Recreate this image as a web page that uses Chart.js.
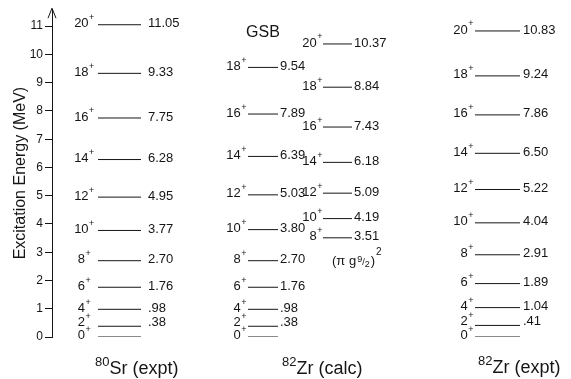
<!DOCTYPE html>
<html>
<head>
<meta charset="utf-8">
<script src="https://cdn.jsdelivr.net/npm/chart.js@4/dist/chart.umd.min.js"></script>
<style>
  html, body { margin: 0; padding: 0; background: #fff; }
  #wrap { width: 571px; height: 379px; }
</style>
</head>
<body>
<div id="wrap"><canvas id="c" width="571" height="379"></canvas></div>
<script>
// ---- data (MeV) ----
const sr80ExptSpins = [0, 2, 4, 6, 8, 10, 12, 14, 16, 18, 20];
const sr80ExptEnergies = [0, 0.38, 0.98, 1.76, 2.70, 3.77, 4.95, 6.28, 7.75, 9.33, 11.05];

const zr82CalcGsbSpins = [0, 2, 4, 6, 8, 10, 12, 14, 16, 18];
const zr82CalcGsbEnergies = [0, 0.38, 0.98, 1.76, 2.70, 3.80, 5.03, 6.39, 7.89, 9.54];

const zr82CalcG92Spins = [8, 10, 12, 14, 16, 18, 20];
const zr82CalcG92Energies = [3.51, 4.19, 5.09, 6.18, 7.43, 8.84, 10.37];

const zr82ExptSpins = [0, 2, 4, 6, 8, 10, 12, 14, 16, 18, 20];
const zr82ExptEnergies = [0, 0.41, 1.04, 1.89, 2.91, 4.04, 5.22, 6.50, 7.86, 9.24, 10.83];

const yTickValues = [0, 1, 2, 3, 4, 5, 6, 7, 8, 9, 10, 11];
const yAxisTitle = 'Excitation Energy (MeV)';

// ---- layout (pixel-unit x positions, styles) ----
const FONT = '"Liberation Sans", Arial, Helvetica, sans-serif';
const INK = '#151515';
const columns = [
  { spins: sr80ExptSpins, energies: sr80ExptEnergies, x1: 98, x2: 141, spinX: 84, spinAlign: 'center', valueX: 148 },
  { spins: zr82CalcGsbSpins, energies: zr82CalcGsbEnergies, x1: 248, x2: 278, spinX: 246, spinAlign: 'right', valueX: 280 },
  { spins: zr82CalcG92Spins, energies: zr82CalcG92Energies, x1: 323, x2: 352, spinX: 322, spinAlign: 'right', valueX: 354 },
  { spins: zr82ExptSpins, energies: zr82ExptEnergies, x1: 475, x2: 520, spinX: 473, spinAlign: 'right', valueX: 523 }
];
const bottomLabels = [
  { mass: '80', text: 'Sr (expt)', x: 95, y: 374 },
  { mass: '82', text: 'Zr (calc)', x: 282, y: 374 },
  { mass: '82', text: 'Zr (expt)', x: 478, y: 373 }
];

function fmtE(v) { return v.toFixed(2).replace(/^0(?=\.)/, ''); }

const datasets = [];
columns.forEach(col => {
  col.energies.forEach(e => {
    datasets.push({
      data: [{ x: col.x1, y: e }, { x: col.x2, y: e }],
      borderColor: INK, borderWidth: 1, pointRadius: 0, fill: false, tension: 0
    });
  });
});

function drawSpin(ctx, spin, x, y, align) {
  const main = String(spin);
  ctx.font = '13px ' + FONT;
  const w1 = ctx.measureText(main).width;
  ctx.font = '9px ' + FONT;
  const w2 = ctx.measureText('+').width;
  const total = w1 + w2;
  let left = x;
  if (align === 'right') left = x - total;
  else if (align === 'center') left = x - total / 2;
  ctx.textAlign = 'left';
  ctx.textBaseline = 'middle';
  ctx.font = '13px ' + FONT;
  ctx.fillText(main, left, y);
  ctx.font = '9px ' + FONT;
  ctx.fillText('+', left + w1 + 0.5, y - 6);
}

const labelsPlugin = {
  id: 'levelLabels',
  afterDatasetsDraw(chart) {
    const ctx = chart.ctx;
    const xs = chart.scales.x, ys = chart.scales.y;
    ctx.save();
    ctx.fillStyle = INK;
    ctx.strokeStyle = INK;

    // arrow on the axis top
    const ax = ys.right, at = chart.chartArea.top;
    ctx.lineWidth = 1;
    ctx.beginPath();
    ctx.moveTo(ax - 4, at + 9);
    ctx.lineTo(ax, at - 1);
    ctx.lineTo(ax + 4, at + 9);
    ctx.stroke();

    columns.forEach(col => {
      col.energies.forEach((e, i) => {
        const spin = col.spins[i];
        const py = ys.getPixelForValue(e);
        const dy = spin === 2 ? -3.5 : (spin === 0 ? -1.5 : -1);
        drawSpin(ctx, spin, xs.getPixelForValue(col.spinX), py + dy, col.spinAlign);
        if (e > 0) {
          ctx.font = '13px ' + FONT;
          ctx.textAlign = 'left';
          ctx.textBaseline = 'middle';
          ctx.fillText(fmtE(e), xs.getPixelForValue(col.valueX), py + dy);
        }
      });
    });

    // GSB label
    ctx.font = '16px ' + FONT;
    ctx.textAlign = 'center';
    ctx.textBaseline = 'middle';
    ctx.fillText('GSB', 263, 33);

    // (π g9/2)^2 label
    ctx.textAlign = 'left';
    ctx.textBaseline = 'alphabetic';
    let x = 332;
    const by = 265;
    ctx.font = '13px ' + FONT;
    ctx.fillText('(\u03C0 g', x, by);
    x += ctx.measureText('(\u03C0 g').width + 1;
    ctx.font = '9px ' + FONT;
    ctx.fillText('9', x, by - 3);
    x += ctx.measureText('9').width;
    ctx.fillText('/', x, by);
    x += ctx.measureText('/').width;
    ctx.fillText('2', x, by + 2);
    x += ctx.measureText('2').width + 1;
    ctx.font = '13px ' + FONT;
    ctx.fillText(')', x, by);
    x += ctx.measureText(')').width + 1;
    ctx.font = '10px ' + FONT;
    ctx.fillText('2', x, by - 10);

    // bottom nucleus labels
    bottomLabels.forEach(b => {
      ctx.font = '13px ' + FONT;
      ctx.fillText(b.mass, b.x, b.y - 8);
      const w = ctx.measureText(b.mass).width;
      ctx.font = '18px ' + FONT;
      ctx.fillText(b.text, b.x + w, b.y);
    });
    ctx.restore();
  }
};

new Chart(document.getElementById('c'), {
  type: 'line',
  data: { datasets },
  options: {
    responsive: false,
    animation: false,
    devicePixelRatio: 1,
    layout: { padding: { left: 0, right: 1, top: 8, bottom: 42 } },
    plugins: { legend: { display: false }, tooltip: { enabled: false } },
    scales: {
      x: { type: 'linear', min: 52, max: 570, display: false },
      y: {
        type: 'linear', min: 0, max: 11.6,
        afterBuildTicks(scale) { scale.ticks = yTickValues.map(v => ({ value: v })); },
        afterFit(scale) { scale.width = 52; },
        ticks: { color: INK, font: { family: FONT, size: 12 }, padding: 2, callback: v => String(v) },
        grid: { display: true, drawOnChartArea: false, tickLength: 7, color: INK, lineWidth: 1 },
        border: { display: true, color: INK, width: 1 },
        title: { display: true, text: yAxisTitle, color: INK, font: { family: FONT, size: 16 }, padding: { top: 11, bottom: 0 } }
      }
    }
  },
  plugins: [labelsPlugin]
});
</script>
</body>
</html>
